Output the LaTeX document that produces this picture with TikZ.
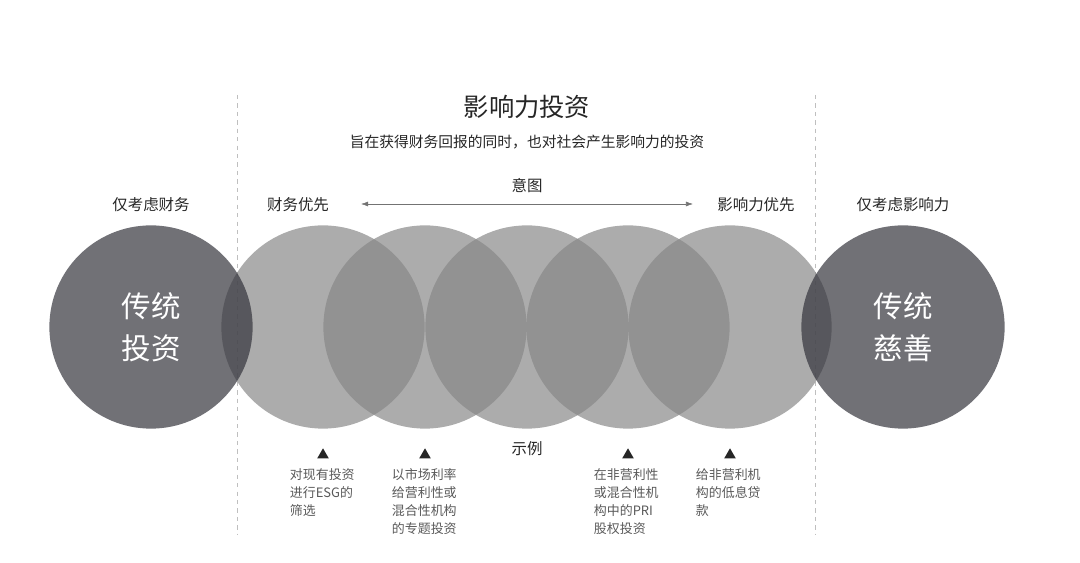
\documentclass[tikz,border=0pt]{standalone}
\usepackage{fontspec}
\setmainfont{Noto Sans CJK SC}
\usepackage{tikz}
\usetikzlibrary{
  arrows.meta,
  positioning,
  shapes.geometric,
}
\definecolor{darkfill}{RGB}{52,52,60}

\begin{document}
\begin{tikzpicture}[
  x=0.025cm, y=-0.025cm,
  lightcirc/.style={circle, minimum size=5.08cm, inner sep=0, fill=black!47, fill opacity=0.69},
  darkcirc/.style={circle, minimum size=5.08cm, inner sep=0, fill=darkfill, fill opacity=0.7,
    text opacity=1, text=white, font=\fontsize{21}{30}\selectfont, align=center},
  heading/.style={font=\fontsize{11}{13}\selectfont, text=black!85},
  example/.style={font=\fontsize{9.2}{12.8}\selectfont, text=black!65, align=left, anchor=north west},
  marker/.style={regular polygon, regular polygon sides=3, fill=black!85, inner sep=0, minimum size=9.5pt},
  divider/.style={dashed, black!25, thin},
]
  % Canvas: 1080 x 563 px
  \useasboundingbox (0,0) rectangle (1080,563);

  % Dividers
  \draw[divider] (237,95) -- (237,535);
  \draw[divider] (815,95) -- (815,535);

  % Middle circles
  \foreach \i/\cx in {1/323,2/425,3/527,4/628,5/730} {
    \node[lightcirc] (m\i) at (\cx,327) {};
  }

  % Outer circles
  \node[darkcirc] (invest) at (151,327) {传统\\投资};
  \node[darkcirc] (charity) at (903,327) {传统\\慈善};

  % Title
  \node[font=\fontsize{18}{21}\selectfont, text=black!85] (title) at (527,107) {影响力投资};
  \node[font=\fontsize{10.5}{13}\selectfont, text=black!85] (subtitle) at (527,142)
    {旨在获得财务回报的同时，也对社会产生影响力的投资};

  % Headings
  \node[heading] (finonly) at (151,205) {仅考虑财务};
  \node[heading] (imponly) at (903,205) {仅考虑影响力};
  \node[heading] (finfirst) at (298,205) {财务优先};
  \node[heading] (impfirst) at (756,205) {影响力优先};
  \node[heading] (intent) at (527,186) {意图};

  % Intent arrow
  \coordinate (arrL) at (361,204);
  \coordinate (arrR) at (693,204);
  \draw[black!55, {Latex[length=5pt,width=3.5pt]}-{Latex[length=5pt,width=3.5pt]}] (arrL) -- (arrR);

  % Examples
  \node[heading] (examples) at (527,449) {示例};
  \foreach \i/\cx in {1/323,2/425,4/628,5/730} {
    \node[marker] (t\i) at (\cx,455) {};
  }
  \node[example] (ex1) at (285,464) {对现有投资\\进行ESG的\\筛选};
  \node[example] (ex2) at (387,464) {以市场利率\\给营利性或\\混合性机构\\的专题投资};
  \node[example] (ex4) at (589,464) {在非营利性\\或混合性机\\构中的PRI\\股权投资};
  \node[example] (ex5) at (691,464) {给非营利机\\构的低息贷\\款};

\end{tikzpicture}
\end{document}
